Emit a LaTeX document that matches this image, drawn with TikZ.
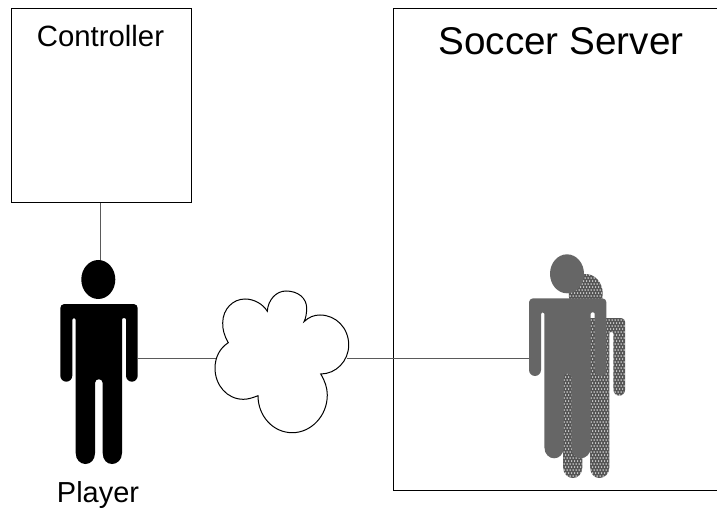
\documentclass[tikz,border=0pt]{standalone}
\usepackage{fontspec}
\setmainfont{Liberation Sans}
\usetikzlibrary{calc}
\definecolor{servergray}{RGB}{102,102,102}
\definecolor{wiregray}{RGB}{90,90,90}
\definecolor{dotbase}{RGB}{85,85,85}
\newcommand{\personpath}[2]{%
  (98.3+#1,279.5+#2) ellipse [x radius=17, y radius=19.5]
  (64.3+#1,304+#2) -- (133.7+#1,304+#2) .. controls (136+#1,304+#2) and (137.7+#1,306+#2) .. (137.7+#1,308+#2)
  -- (137.7+#1,375.5+#2) .. controls (137.7+#1,379+#2) and (135+#1,381.7+#2) .. (132+#1,381.7+#2)
  .. controls (128.5+#1,381.7+#2) and (126+#1,379+#2) .. (126+#1,375.5+#2)
  -- (126+#1,319.5+#2) .. controls (126+#1,317.5+#2) and (122+#1,317.5+#2) .. (122+#1,319.5+#2)
  -- (122+#1,453+#2) .. controls (122+#1,460+#2) and (117+#1,464+#2) .. (112+#1,464+#2)
  .. controls (107+#1,464+#2) and (102.7+#1,460+#2) .. (102.7+#1,453+#2)
  -- (102.7+#1,383+#2) .. controls (102.7+#1,378+#2) and (95+#1,378+#2) .. (95+#1,383+#2)
  -- (95+#1,453+#2) .. controls (95+#1,460+#2) and (90.5+#1,464+#2) .. (85.5+#1,464+#2)
  .. controls (80.5+#1,464+#2) and (75.7+#1,460+#2) .. (75.7+#1,453+#2)
  -- (75.7+#1,319.5+#2) .. controls (75.7+#1,317.5+#2) and (72.3+#1,317.5+#2) .. (72.3+#1,319.5+#2)
  -- (72.3+#1,375.5+#2) .. controls (72.3+#1,379+#2) and (69.5+#1,381.7+#2) .. (66.3+#1,381.7+#2)
  .. controls (63+#1,381.7+#2) and (60.3+#1,379+#2) .. (60.3+#1,375.5+#2)
  -- (60.3+#1,308+#2) .. controls (60.3+#1,306+#2) and (62+#1,304+#2) .. (64.3+#1,304+#2) -- cycle}
\tikzset{
  frame/.style={draw=black,line width=0.6pt,fill=white,inner sep=0pt,anchor=north west},
  wire/.style={draw=wiregray,line width=0.75pt},
  label/.style={inner sep=0pt,text=black}
}
\begin{document}
\begin{tikzpicture}[x=0.75pt,y=-0.75pt]
\useasboundingbox (0,0) rectangle (717,513);
\fill[white] (0,0) rectangle (717,513);
% boxes
\node[frame,minimum width=135pt,minimum height=145pt] (controller) at (10.5,8.5) {};
\node[frame,minimum width=243pt,minimum height=361pt] (server) at (393,8.5) {};
\node[label,font=\fontsize{22}{24}\selectfont] (ctext) at (100.5,36) {Controller};
\node[label,font=\fontsize{29}{32}\selectfont] (stext) at (561,41) {Soccer Server};
\node[label,font=\fontsize{21.7}{24}\selectfont] (ptext) at (98,495) {Player};
% anchors
\coordinate (phead) at (100.5,262);
\coordinate (pright) at (137.7,358.5);
\coordinate (cloudl) at (216,358.5);
\coordinate (cloudr) at (347,358.5);
\coordinate (gleft) at (529,358.5);
% connectors
\draw[wire] (controller.south -| phead) -- (phead);
\draw[wire] (pright) -- (cloudl);
\draw[wire] (cloudr) -- (gleft);
% black player
\fill[black] \personpath{0}{0};
% checkered player
\begin{scope}
\clip \personpath{487.4}{14};
\fill[dotbase] (540,270) rectangle (630,480);
\foreach \yy in {0,...,70}{
  \foreach \xx in {0,...,30}{
    \fill[white] ({546+\xx*3+mod(\yy,2)*1.5},{272+\yy*3}) circle [radius=0.75];
  }
}
\end{scope}
% gray player
\fill[servergray] \personpath{468.7}{-5.7};
% cloud
\draw[black,line width=0.75pt,fill=white]
  (228.3,342.7) .. controls (224,335) and (222.7,330) .. (222.7,323)
  .. controls (222.7,309) and (233,299) .. (245,299)
  .. controls (254,299) and (263,304) .. (267.3,311.3)
  .. controls (268,300) and (276,291) .. (286,291)
  .. controls (298,291) and (307,298) .. (306.7,309)
  .. controls (306.5,313) and (306,318) .. (304,321.7)
  .. controls (309,317) and (314,315) .. (320,315)
  .. controls (336,315) and (348.7,328) .. (348.7,345)
  .. controls (348.7,361) and (336,374) .. (320.7,374)
  .. controls (325,381) and (327.3,388) .. (327.3,395)
  .. controls (327.3,416) and (311,432.7) .. (292.3,432.7)
  .. controls (273,432.7) and (258,416) .. (258,395.7)
  .. controls (252,398) and (248,399.3) .. (243.3,399.3)
  .. controls (227,399.3) and (215,385) .. (215,368.3)
  .. controls (215,357) and (220,348) .. (228.3,342.7) -- cycle;
\end{tikzpicture}
\end{document}
